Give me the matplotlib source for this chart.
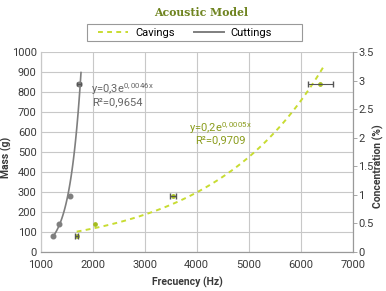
import numpy as np
import matplotlib
matplotlib.use("Agg")
import matplotlib.pyplot as plt
from matplotlib.patches import Rectangle

plt.rcParams['font.family'] = ['Roboto', 'DejaVu Sans']
plt.rcParams['mathtext.default'] = 'regular'

# cuttings: frequency (Hz) vs mass (g), left axis
cut_freq = [1242, 1346, 1563, 1737]
cut_mass = [80, 138, 282, 842]
cut_xerr = [0, 0, 0, 38]
# cavings: frequency (Hz) vs concentration (%), right axis
cav_freq = [1692, 2044, 3550, 6377]
cav_conc = [0.285, 0.485, 0.98, 2.94]
cav_xerr = [25, 0, 58, 235]

cut_range = (1255, 1775)
cav_range = (1692, 6450)

grey = '#7f7f7f'
green = '#c8dc32'
green_dark = '#a4bc1c'
text_green = '#8a9c1c'
grid_c = '#c8c8c8'
txt = '#3a3a3a'

W, H = 386, 291
fig = plt.figure(figsize=(W / 100, H / 100), dpi=100)
ax = fig.add_axes([40.7 / W, 1 - 252 / H, 312 / W, 200 / H])
ax2 = ax.twinx()

# exponential trendlines fitted to the points
b1, a1 = np.polyfit(cut_freq, np.log(cut_mass), 1)
xs1 = np.linspace(cut_range[0], cut_range[1], 100)
ax.plot(xs1, np.exp(a1) * np.exp(b1 * xs1), color=grey, lw=1.2, zorder=3)
ax.plot(cut_freq, cut_mass, 'o', ms=3.3, color=grey, zorder=4)
for f, m, e in zip(cut_freq, cut_mass, cut_xerr):
    if e:
        ax.errorbar([f], [m], xerr=[e], fmt='none', ecolor='#555555',
                    elinewidth=0.8, capsize=1.5, zorder=5)

b2, a2 = np.polyfit(cav_freq, np.log(cav_conc), 1)
xs2 = np.linspace(cav_range[0], cav_range[1], 100)
ax2.plot(xs2, np.exp(a2) * np.exp(b2 * xs2), color=green, lw=1.4,
         dashes=(2.5, 2.2), zorder=3)
ax2.plot(cav_freq, cav_conc, 'o', ms=2.4, color=green_dark, zorder=4)
for f, c, e in zip(cav_freq, cav_conc, cav_xerr):
    if e:
        ax2.errorbar([f], [c], xerr=[e], fmt='none', ecolor='#555555',
                     elinewidth=0.8, capsize=2, zorder=5)

ax.set_xlim(1000, 7000)
ax.set_ylim(0, 1000)
ax2.set_ylim(0, 3.5)
ax.set_xticks(range(1000, 7001, 1000))
ax.set_yticks(range(0, 1001, 100))
ax2.set_yticks(np.arange(0, 3.51, 0.5))
ax2.set_yticklabels(['0', '0.5', '1', '1.5', '2', '2.5', '3', '3.5'])

ax.grid(True, color=grid_c, lw=0.8)
ax.set_axisbelow(True)
for a in (ax, ax2):
    a.spines['top'].set_visible(False)
    a.spines['left'].set_color(grid_c)
    a.spines['right'].set_color('#999999')
    a.spines['bottom'].set_color('#999999')
ax.tick_params(axis='y', length=0, labelsize=8, colors=txt, pad=3)
ax.tick_params(axis='x', length=0, labelsize=8, colors=txt, pad=6)
ax2.tick_params(axis='y', length=3, width=0.6, color='#999999', labelsize=8,
                labelcolor=txt, pad=1)

fig.text(187 / W, 1 - 282.5 / H, 'Frecuency (Hz)', ha='center', va='center',
         fontsize=7.5, color=txt, fontweight='bold')
fig.text(6.5 / W, 1 - 157.5 / H, 'Mass (g)', ha='center', va='center',
         rotation=90, fontsize=7.5, color=txt, fontweight='bold')
fig.text(378 / W, 1 - 166 / H, 'Concentration (%)', ha='center', va='center',
         rotation=90, fontsize=7.5, color=txt, fontweight='bold')

ax.text(1970, 815, 'y=0,3e$^{0,0046x}$', fontsize=8, color='#666666', va='center')
ax.text(1990, 750, 'R²=0,9654', fontsize=8, color='#666666', va='center')
ax2.text(3860, 2.17, 'y=0,2e$^{0,0005x}$', fontsize=8, color=text_green, va='center')
ax2.text(3975, 1.96, 'R²=0,9709', fontsize=8, color=text_green, va='center')

fig.text(201.5 / W, 1 - 12 / H, 'Acoustic Model', ha='center', va='center',
         fontsize=7.8, fontweight='bold', family='DejaVu Serif', color='#6f8420')

# legend with a hand-placed frame
fig.patches.append(Rectangle((87 / W, 1 - 41 / H), 215 / W, 17 / H,
                             transform=fig.transFigure, fill=False,
                             edgecolor='#999999', lw=0.8))
h1, = ax.plot([], [], color=green, lw=1.4, dashes=(2.5, 2.2))
h2, = ax.plot([], [], color=grey, lw=1.4)
fig.legend([h1, h2], ['Cavings', 'Cuttings'], loc='center',
           bbox_to_anchor=(185 / W, 1 - 32.5 / H), ncol=2, fontsize=8,
           frameon=False, handlelength=2.7, columnspacing=1.7,
           handletextpad=0.6, borderpad=0.2)

fig.savefig('out.png', dpi=100)
